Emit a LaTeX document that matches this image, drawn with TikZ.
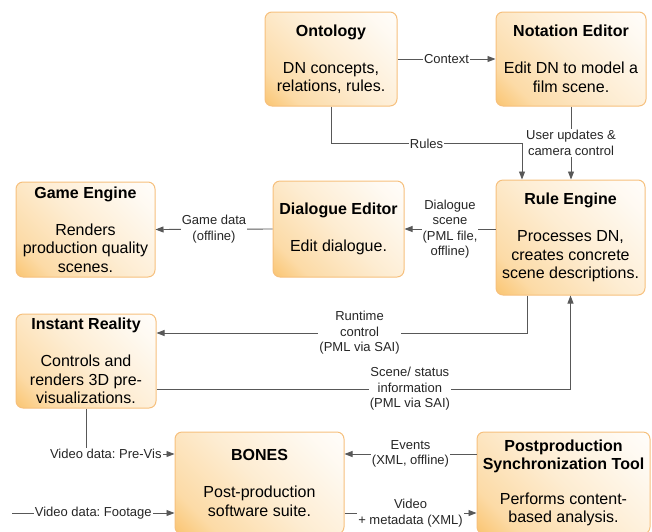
\documentclass[tikz,border=0pt]{standalone}
\usepackage{fontspec}
\setmainfont{Liberation Sans}
\usetikzlibrary{arrows.meta,positioning,calc}

\definecolor{boxorange}{RGB}{248,174,58}
\definecolor{boxedge}{RGB}{246,192,125}
\definecolor{linegray}{RGB}{88,88,88}
\colorlet{shadeA}{boxorange!78!white}
\colorlet{shadeB}{boxorange!45!white}
\colorlet{shadeC}{boxorange!23!white}
\colorlet{shadeD}{boxorange!7!white}
\pgfdeclareverticalshading{boxshade}{100bp}{color(0bp)=(boxorange); color(12bp)=(shadeA);
    color(26bp)=(shadeB); color(50bp)=(shadeC); color(75bp)=(shadeD);
    color(90bp)=(white); color(100bp)=(white)}

\begin{document}
\frenchspacing
\begin{tikzpicture}[
    x=1pt, y=-1pt,
    >={Triangle[length=8pt,width=6pt]},
    basebox/.style={
        draw=boxedge,
        line width=1pt,
        rounded corners=7pt,
        align=center,
        inner sep=2pt,
        shading=boxshade,
        shading angle=-45,
        font=\fontsize{16pt}{18.5pt}\selectfont
    },
    lbl/.style={fill=white, inner sep=1pt, align=center, text=black!85,
        font=\fontsize{13pt}{15.5pt}\selectfont},
    arrow/.style={->, line width=0.9pt, draw=linegray}
]
\useasboundingbox (0,0) rectangle (652,531);
\clip (0,0) rectangle (652,531);

% Nodes
\node[basebox, minimum width=132pt, minimum height=94pt] (onto) at (331,59)
    {\textbf{Ontology}\\[18.5pt]DN concepts,\\relations, rules.};
\node[basebox, minimum width=150pt, minimum height=94pt] (notation) at (571,59)
    {\textbf{Notation Editor}\\[18.5pt]Edit DN to model a\\film scene.};

\node[basebox, minimum width=139pt, minimum height=95pt] (game) at (85.5,229.5)
    {\textbf{Game Engine}\\[18.5pt]Renders\\production quality\\scenes.};
\node[basebox, minimum width=131pt, minimum height=96pt] (dialogue) at (338.5,229)
    {\textbf{Dialogue Editor}\\[18.5pt]Edit dialogue.};
\node[basebox, minimum width=149pt, minimum height=115pt] (rule) at (570.5,237.5)
    {\textbf{Rule Engine}\\[18.5pt]Processes DN,\\creates concrete\\scene descriptions.};

\node[basebox, minimum width=140pt, minimum height=94pt] (ir) at (86,361)
    {\textbf{Instant Reality}\\[18.5pt]Controls and\\renders 3D pre-\\visualizations.};

\node[basebox, minimum width=169pt, minimum height=102pt] (bones) at (259.5,483)
    {\textbf{BONES}\\[18.5pt]Post-production\\software suite.};
\node[basebox, minimum width=173pt, minimum height=102pt] (postprod) at (563.5,483)
    {\textbf{Postproduction}\\\textbf{Synchronization Tool}\\[16pt]Performs content-\\based analysis.};

\coordinate (footage) at (12,513);

% Connections
\draw[arrow] (onto.east) -- node[lbl]{Context} (notation.west);
\draw[arrow] (onto.south) -- ++(0,37) -| node[lbl,pos=0.25]{Rules} ($(rule.north)+(-48.5,0)$);
\draw[arrow] (notation.south) -- node[lbl]{User updates \&\\camera control} (notation.south |- rule.north);
\draw[arrow] (rule.west |- dialogue.east) -- node[lbl]{Dialogue\\scene\\(PML file,\\offline)} (dialogue.east);
\draw[arrow] (dialogue.west) -- node[lbl]{Game data\\(offline)} (game.east);
\draw[arrow] ($(rule.south)+(-43.5,0)$) |- node[lbl,pos=0.726]{Runtime\\control\\(PML via SAI)} ($(ir.east)+(0,-28)$);
\draw[arrow] ($(ir.east)+(0,28)$) -| node[lbl,pos=0.306]{Scene/ status\\information\\(PML via SAI)} (rule.south);
\draw[arrow] (ir.south) |- node[lbl,pos=0.612]{Video data: Pre-Vis} ($(bones.west)+(0,-29)$);
\draw[arrow] (footage) -- node[lbl]{Video data: Footage} ($(bones.west)+(0,30)$);
\draw[arrow] ($(postprod.west)+(0,-29)$) -- node[lbl]{Events\\(XML, offline)} ($(bones.east)+(0,-29)$);
\draw[arrow] ($(bones.east)+(0,30)$) -- node[lbl]{Video\\+ metadata (XML)} ($(postprod.west)+(0,30)$);

\end{tikzpicture}
\end{document}
